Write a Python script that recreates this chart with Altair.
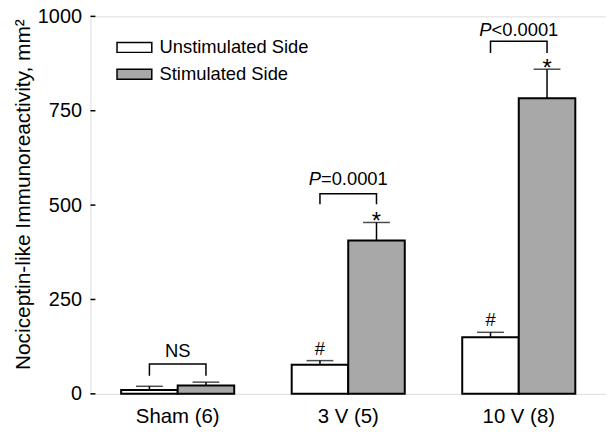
import altair as alt
import pandas as pd

groups = ["Sham (6)", "3 V (5)", "10 V (8)"]
series = ["Unstimulated Side", "Stimulated Side"]
unstim_mean = [10, 77, 150]
unstim_err = [10, 11, 13]
stim_mean = [22, 406, 783]
stim_err = [9, 48, 77]

hash_groups = ["3 V (5)", "10 V (8)"]
star_groups = ["3 V (5)", "10 V (8)"]

bracket_top = [79, 530, 934]
bracket_leg = [48, 502, 903]
ann_prefix = ["", "P", "P"]
ann_rest = ["NS", "=0.0001", "<0.0001"]
ann_y = [97, 553, 947]

y_ticks = [0, 250, 500, 750, 1000]

FONT = "Liberation Sans"

rows = []
for i, g in enumerate(groups):
    rows.append({"group": g, "series": series[0], "mean": unstim_mean[i], "upper": unstim_mean[i] + unstim_err[i]})
    rows.append({"group": g, "series": series[1], "mean": stim_mean[i], "upper": stim_mean[i] + stim_err[i]})
bars_df = pd.DataFrame(rows)

hash_df = pd.DataFrame([{**r, "sym": "#"} for r in rows if r["series"] == series[0] and r["group"] in hash_groups])
star_df = pd.DataFrame([{**r, "sym": "*"} for r in rows if r["series"] == series[1] and r["group"] in star_groups])

br_rows = []
for i, g in enumerate(groups):
    br_rows += [
        {"group": g, "series": series[0], "y": bracket_leg[i], "o": 0},
        {"group": g, "series": series[0], "y": bracket_top[i], "o": 1},
        {"group": g, "series": series[1], "y": bracket_top[i], "o": 2},
        {"group": g, "series": series[1], "y": bracket_leg[i], "o": 3},
    ]
br_df = pd.DataFrame(br_rows)

ann_df = pd.DataFrame({"group": groups, "prefix": ann_prefix, "rest": ann_rest, "y": ann_y})
ticks_df = pd.DataFrame({"v": y_ticks})

x_enc = alt.X("group:N", sort=groups, title=None,
              scale=alt.Scale(paddingInner=0.337, paddingOuter=0.18),
              axis=alt.Axis(labelFont=FONT, labelFontSize=20.5, labelColor="black", labelAngle=0,
                            ticks=False, domain=False, labelPadding=13))
xo_enc = alt.XOffset("series:N", sort=series, scale=alt.Scale(paddingInner=0, paddingOuter=0))
y_scale = alt.Scale(domain=[0, 1000], nice=False)
y_axis = alt.Axis(values=y_ticks, format="d", title="Nociceptin-like Immunoreactivity, mm²", grid=False,
                  ticks=False, domain=False, labelFont=FONT, labelFontSize=20, labelColor="black",
                  labelPadding=9, titleFont=FONT, titleFontSize=21, titleFontWeight="normal",
                  titleColor="black", titlePadding=4, titleY=179)

bars = alt.Chart(bars_df).mark_bar(stroke="black", strokeWidth=2).encode(
    x=x_enc,
    xOffset=xo_enc,
    y=alt.Y("mean:Q", scale=y_scale, axis=y_axis),
    fill=alt.Fill("series:N", sort=series,
                  scale=alt.Scale(domain=series, range=["white", "#a8a8a8"]),
                  legend=alt.Legend(orient="none", legendX=35, legendY=22, title=None,
                                    symbolType="M-7,-2H7V2H-7Z", symbolSize=25,
                                    symbolStrokeColor="black", symbolStrokeWidth=1.5,
                                    symbolOpacity=1,
                                    labelFont=FONT, labelFontSize=18.5, labelColor="black",
                                    labelOffset=16, rowPadding=8, padding=0)),
)

err_rule = alt.Chart(bars_df).mark_rule(color="black", strokeWidth=1.5).encode(
    x=alt.X("group:N", sort=groups), xOffset=xo_enc,
    y="mean:Q", y2="upper:Q")
err_cap = alt.Chart(bars_df).mark_tick(color="black", thickness=1.5, size=27).encode(
    x=alt.X("group:N", sort=groups), xOffset=xo_enc, y="upper:Q")

hash_txt = alt.Chart(hash_df).mark_text(font=FONT, fontSize=18.5, baseline="alphabetic", dy=-6, color="black").encode(
    x=alt.X("group:N", sort=groups), xOffset=xo_enc, y="upper:Q", text="sym:N")
star_txt = alt.Chart(star_df).mark_text(font=FONT, fontSize=24, baseline="alphabetic", dy=7, color="black").encode(
    x=alt.X("group:N", sort=groups), xOffset=xo_enc, y="upper:Q", text="sym:N")

brackets = alt.Chart(br_df).mark_line(color="black", strokeWidth=1.5).encode(
    x=alt.X("group:N", sort=groups), xOffset=xo_enc, y="y:Q",
    detail="group:N", order="o:Q")

ns_txt = alt.Chart(ann_df).transform_filter("datum.prefix == ''").mark_text(
    font=FONT, fontSize=18.5, baseline="alphabetic", color="black").encode(
    x=alt.X("group:N", sort=groups), y="y:Q", text="rest:N")
p_txt = alt.Chart(ann_df).transform_filter("datum.prefix != ''").mark_text(
    font=FONT, fontSize=18.5, fontStyle="italic", baseline="alphabetic", align="right", dx=-27.5, color="black").encode(
    x=alt.X("group:N", sort=groups), y="y:Q", text="prefix:N")
rest_txt = alt.Chart(ann_df).transform_filter("datum.prefix != ''").mark_text(
    font=FONT, fontSize=18.5, baseline="alphabetic", align="left", dx=-27.5, color="black").encode(
    x=alt.X("group:N", sort=groups), y="y:Q", text="rest:N")

inner_ticks = alt.Chart(ticks_df).mark_rule(color="black", strokeWidth=1.5).encode(
    y="v:Q", x=alt.value(0), x2=alt.value(5))

chart = alt.layer(bars, err_rule, err_cap, hash_txt, star_txt, brackets, ns_txt, p_txt, rest_txt, inner_ticks).properties(
    width=519, height=380,
    autosize=alt.AutoSizeParams(type="none"),
    padding={"left": 83, "top": 7, "right": 0, "bottom": 38},
).configure_view(stroke="black", strokeWidth=1.5).configure(background="white")

chart.save("out.html", embed_options={"renderer": "svg", "actions": False})
